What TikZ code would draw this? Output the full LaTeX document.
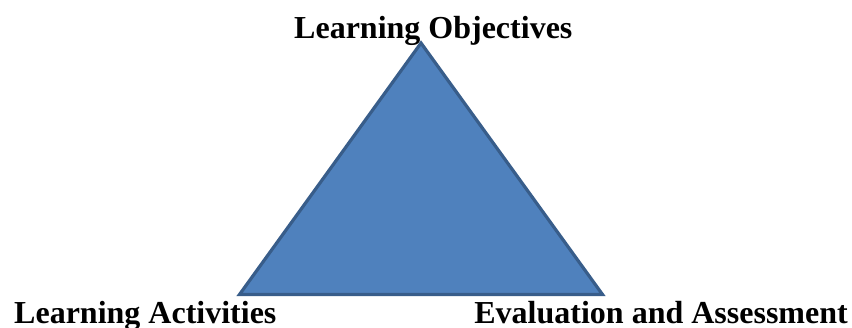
\documentclass[tikz,border=0pt]{standalone}
\usepackage{fontspec}
\setmainfont{Liberation Serif}
\definecolor{triFill}{HTML}{4F81BD}
\definecolor{triLine}{HTML}{385D8A}
\tikzset{
  lbl/.style={inner sep=0pt, font=\fontsize{32}{36}\selectfont\bfseries, text=black},
  tri/.style={fill=triFill, draw=triLine, line width=3.2pt, line join=miter}
}
\begin{document}
\begin{tikzpicture}[x=1pt,y=-1pt]
\useasboundingbox (0,0) rectangle (852,327);
\coordinate (apex) at (421,43);
\coordinate (bl) at (239.5,294.5);
\coordinate (br) at (602.5,294.5);
\draw[tri] (apex) -- (br) -- (bl) -- cycle;
\node[lbl, anchor=base west] (obj) at (294,38.3) {Learning Objectives};
\node[lbl, anchor=base west] (act) at (14,323.3) {Learning Activities};
\node[lbl, anchor=base east] (eval) at (848,323.3) {Evaluation and Assessment};
\end{tikzpicture}
\end{document}
